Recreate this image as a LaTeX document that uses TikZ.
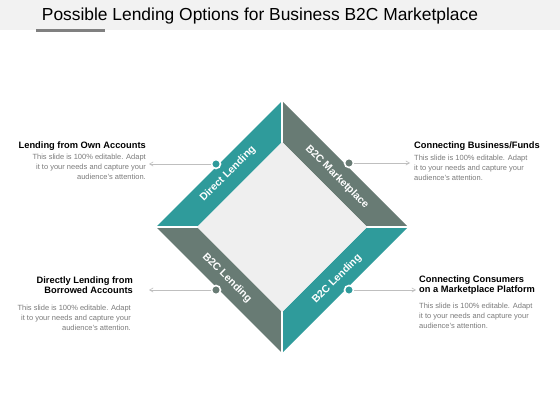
\documentclass[tikz,border=0pt]{standalone}
\usepackage{fontspec}
\setmainfont{Liberation Sans}
\usepackage{tikz}
\usetikzlibrary{arrows,shapes,positioning}

\definecolor{bandteal}{HTML}{2F9B9B}
\definecolor{bandgrey}{HTML}{687B74}
\definecolor{innergrey}{HTML}{EFEFEF}
\definecolor{bodygrey}{HTML}{7A7A7A}

\tikzset{
  bandlabel/.style={text=white,font=\fontsize{10.5}{12}\selectfont\bfseries},
  dot/.style={circle,draw=white,line width=1.6pt,inner sep=0pt,minimum size=9pt},
  head/.style={font=\fontsize{9.3}{10.5}\selectfont\bfseries,inner sep=0pt},
  body/.style={text=bodygrey,font=\fontsize{7.5}{9.8}\selectfont,inner sep=0pt},
  pointer/.style={draw=black!25,line width=0.6pt,-angle 60}
}

\begin{document}
\begin{tikzpicture}[x=1pt,y=-1pt]
\useasboundingbox (0,0) rectangle (560,420);
\fill[black!5] (0,0) rectangle (560,30);
\node (title) at (260,16) {\fontsize{17.4}{19}\selectfont Possible Lending Options for Business B2C Marketplace};
\fill[black!50] (36,29.5) rectangle (105,32);

% the four bands
\foreach \sx/\sy/\col in {-1/-1/bandteal, 1/-1/bandgrey, -1/1/bandgrey, 1/1/bandteal}
  \fill[\col] ({282+\sx*126},227) -- (282,{227+\sy*126}) -- (282,{227+\sy*85}) -- ({282+\sx*85},227) -- cycle;
\draw[white,line width=2pt] (282,95) -- (282,360) (150,227) -- (414,227);
\fill[innergrey] (282,142) -- (367,227) -- (282,312) -- (197,227) -- cycle;

\node[bandlabel,rotate=45] (lblA) at (228,174) {Direct Lending};
\node[bandlabel,rotate=-45] (lblB) at (337,177) {B2C Marketplace};
\node[bandlabel,rotate=-45] (lblC) at (227,278) {B2C Lending};
\node[bandlabel,rotate=45] (lblD) at (337,279) {B2C Lending};

\node[dot,fill=bandteal] (dotA) at (216,164) {};
\node[dot,fill=bandgrey] (dotB) at (349,163) {};
\node[dot,fill=bandgrey] (dotC) at (216,290) {};
\node[dot,fill=bandteal] (dotD) at (349,290) {};

% texts
\node[head,anchor=east] (headA) at (146,146) {Lending from Own Accounts};
\node[body,anchor=north east,align=right] (bodyA) at (146,154) {This slide is 100\% editable. Adapt\\it to your needs and capture your\\audience's attention.};
\node[head,anchor=west] (headB) at (414,146) {Connecting Business/Funds};
\node[body,anchor=north west,align=left] (bodyB) at (414,155) {This slide is 100\% editable. Adapt\\it to your needs and capture your\\audience's attention.};
\node[head,anchor=east,align=right] (headC) at (133,285) {Directly Lending from\\Borrowed Accounts};
\node[body,anchor=north east,align=right] (bodyC) at (131,305) {This slide is 100\% editable. Adapt\\it to your needs and capture your\\audience's attention.};
\node[head,anchor=west,align=left] (headD) at (419,285) {Connecting Consumers\\on a Marketplace Platform};
\node[body,anchor=north west,align=left] (bodyD) at (419,303) {This slide is 100\% editable. Adapt\\it to your needs and capture your\\audience's attention.};

\coordinate (endA) at (149,164);
\coordinate (endB) at (410,163);
\coordinate (endC) at (149,290);
\coordinate (endD) at (416,290);
\draw[pointer] (dotA) -- (endA);
\draw[pointer] (dotB) -- (endB);
\draw[pointer] (dotC) -- (endC);
\draw[pointer] (dotD) -- (endD);
\end{tikzpicture}
\end{document}
